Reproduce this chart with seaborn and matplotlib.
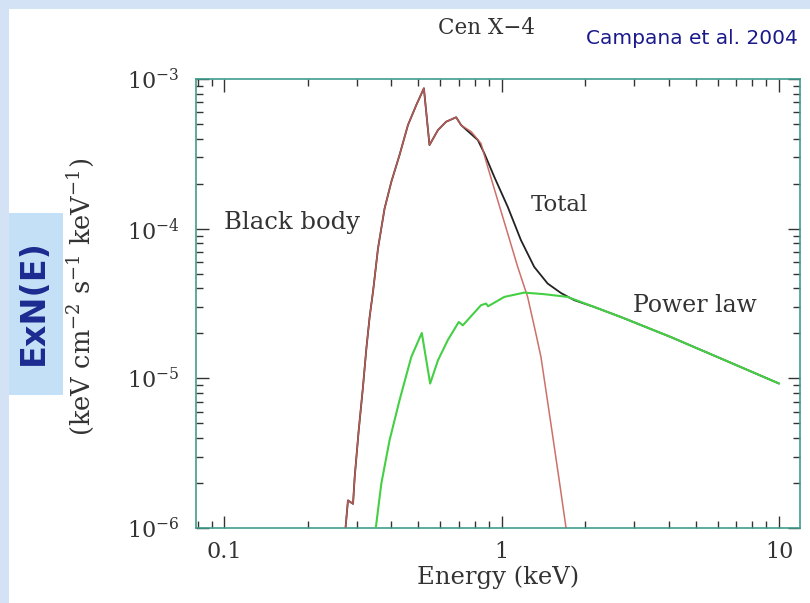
import numpy as np
import pandas as pd
import seaborn as sns
import matplotlib
matplotlib.use("Agg")
import matplotlib.pyplot as plt
from matplotlib.patches import Rectangle
from matplotlib.ticker import LogLocator, NullFormatter, FixedLocator, FixedFormatter

# --- Spectral model components (energy in keV, E*N(E) in keV cm^-2 s^-1 keV^-1) ---
bb_energy = [0.272, 0.279, 0.291, 0.295, 0.305, 0.316, 0.325, 0.334, 0.344, 0.358,
             0.378, 0.400, 0.428, 0.459, 0.492, 0.524, 0.549, 0.589, 0.630, 0.685,
             0.714, 0.776, 0.842, 0.890, 0.967, 1.051, 1.142, 1.240, 1.328, 1.385,
             1.504, 1.612, 1.720]
bb_flux = [9.0e-7, 1.53e-6, 1.45e-6, 2.19e-6, 4.49e-6, 8.75e-6, 1.58e-5, 2.57e-5, 3.88e-5, 7.38e-5,
           1.36e-4, 2.06e-4, 3.10e-4, 4.92e-4, 6.70e-4, 8.67e-4, 3.62e-4, 4.56e-4, 5.18e-4, 5.55e-4,
           4.90e-4, 4.45e-4, 3.71e-4, 2.59e-4, 1.55e-4, 9.29e-5, 5.55e-5, 3.50e-5, 1.99e-5, 1.39e-5,
           4.98e-6, 2.08e-6, 9.0e-7]

pl_energy = [0.349, 0.368, 0.394, 0.428, 0.472, 0.515, 0.552, 0.589, 0.639, 0.700,
             0.724, 0.842, 0.878, 0.893, 1.022, 1.206, 1.423, 1.727, 2.153, 2.687,
             4.064, 6.150, 10.0]
pl_flux = [9.0e-7, 1.98e-6, 3.85e-6, 7.13e-6, 1.39e-5, 2.01e-5, 9.23e-6, 1.32e-5, 1.80e-5, 2.38e-5,
           2.26e-5, 3.08e-5, 3.16e-5, 3.03e-5, 3.50e-5, 3.74e-5, 3.65e-5, 3.50e-5, 3.00e-5, 2.57e-5,
           1.89e-5, 1.36e-5, 9.23e-6]

total_energy = [0.272, 0.279, 0.291, 0.295, 0.305, 0.316, 0.325, 0.334, 0.344, 0.358,
                0.378, 0.400, 0.428, 0.459, 0.492, 0.524, 0.549, 0.589, 0.630, 0.685,
                0.714, 0.820, 0.866, 0.940, 1.051, 1.173, 1.310, 1.464, 1.634, 1.825,
                2.153, 2.687, 4.064, 6.150, 10.0]
total_flux = [9.0e-7, 1.53e-6, 1.45e-6, 2.19e-6, 4.49e-6, 8.75e-6, 1.58e-5, 2.57e-5, 3.88e-5, 7.38e-5,
              1.36e-4, 2.06e-4, 3.10e-4, 4.92e-4, 6.70e-4, 8.67e-4, 3.62e-4, 4.56e-4, 5.18e-4, 5.55e-4,
              4.92e-4, 3.91e-4, 3.18e-4, 2.22e-4, 1.40e-4, 8.38e-5, 5.55e-5, 4.30e-5, 3.72e-5, 3.33e-5,
              3.00e-5, 2.57e-5, 1.89e-5, 1.36e-5, 9.23e-6]

x_tick_values = [0.1, 1, 10]
x_tick_labels = ["0.1", "1", "10"]
y_tick_values = [1e-6, 1e-5, 1e-4, 1e-3]
y_tick_labels = [r"$10^{-6}$", r"$10^{-5}$", r"$10^{-4}$", r"$10^{-3}$"]

bb = pd.DataFrame({"E": bb_energy, "F": bb_flux})
pl = pd.DataFrame({"E": pl_energy, "F": pl_flux})
tot = pd.DataFrame({"E": total_energy, "F": total_flux})

sns.set_style("ticks")
plt.rcParams["font.family"] = ["DejaVu Serif"]
plt.rcParams["mathtext.fontset"] = "dejavuserif"

TXT = "#333333"
W, H = 810, 603
fig = plt.figure(figsize=(W / 100, H / 100), dpi=100)
fig.patch.set_facecolor("#d3e2f4")

# white slide panel, then the light-blue highlight box behind the quantity name
fig.patches.append(Rectangle((9 / W, 0), 1 - 9 / W, 1 - 9 / H, transform=fig.transFigure,
                             facecolor="white", edgecolor="none", zorder=-5))
fig.patches.append(Rectangle((9 / W, 1 - 395 / H), 54 / W, 182 / H, transform=fig.transFigure,
                             facecolor="#c4e0f6", edgecolor="none", zorder=-4))

ax = fig.add_axes([196 / W, 1 - 528 / H, 604 / W, 449 / H])
ax.set_zorder(2)
ax.set_facecolor("white")

sns.lineplot(data=tot, x="E", y="F", ax=ax, color="#222222", lw=1.3,
             estimator=None, sort=False, zorder=2)
sns.lineplot(data=bb, x="E", y="F", ax=ax, color="#c8605a", lw=1.1, alpha=0.9,
             estimator=None, sort=False, zorder=3)
sns.lineplot(data=pl, x="E", y="F", ax=ax, color="#45cf45", lw=1.5,
             estimator=None, sort=False, zorder=4)

ax.set_xscale("log")
ax.set_yscale("log")
ax.set_xlim(0.079, 11.9)
ax.set_ylim(1e-6, 1e-3)

ax.xaxis.set_major_locator(FixedLocator(x_tick_values))
ax.xaxis.set_major_formatter(FixedFormatter(x_tick_labels))
ax.xaxis.set_minor_locator(LogLocator(base=10, subs=np.arange(2, 10)))
ax.xaxis.set_minor_formatter(NullFormatter())
ax.yaxis.set_major_locator(FixedLocator(y_tick_values))
ax.yaxis.set_major_formatter(FixedFormatter(y_tick_labels))
ax.yaxis.set_minor_locator(LogLocator(base=10, subs=np.arange(2, 10)))
ax.yaxis.set_minor_formatter(NullFormatter())

ax.tick_params(which="both", direction="in", top=True, right=True, color=TXT,
               labelsize=16, labelcolor=TXT)
ax.tick_params(which="major", length=9, width=1.0)
ax.tick_params(which="minor", length=5, width=1.0)
ax.tick_params(axis="x", which="major", pad=9)
ax.tick_params(axis="y", which="major", pad=12)
for s in ax.spines.values():
    s.set_color("#3f9c8e")
    s.set_linewidth(1.2)

ax.set_xlabel("Energy (keV)", fontsize=17.5, color=TXT, labelpad=2)
ax.set_ylabel("")

ax.text(0.1, 1.10e-4, "Black body", fontsize=17.5, color=TXT, ha="left", va="center")
ax.text(1.275, 1.44e-4, "Total", fontsize=16.5, color=TXT, ha="left", va="center")
ax.text(2.97, 3.08e-5, "Power law", fontsize=17, color=TXT, ha="left", va="center")

fig.text(81 / W, 1 - 297 / H, r"(keV cm$^{-2}$ s$^{-1}$ keV$^{-1}$)", rotation=90,
         fontsize=18.5, color=TXT, ha="center", va="center")
fig.text(33 / W, 1 - 302 / H, "ExN(E)", rotation=90, fontsize=24, fontweight="bold",
         family=["DejaVu Sans"], color="#1b2a8f", ha="center", va="center", zorder=3)
fig.text(487 / W, 1 - 28 / H, "Cen X\u22124", fontsize=15.5, color=TXT,
         ha="center", va="center")
fig.text(586 / W, 1 - 38 / H, "Campana et al. 2004", fontsize=14.5, color="#1a1a8c",
         family=["DejaVu Sans"], ha="left", va="center")

fig.savefig("out.png", dpi=100, facecolor=fig.get_facecolor())
